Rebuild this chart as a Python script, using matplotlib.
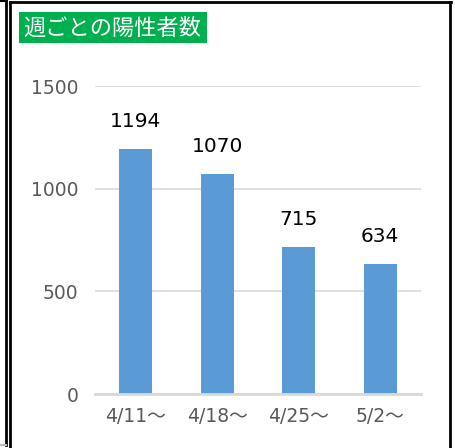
import matplotlib.pyplot as plt
from matplotlib.patches import Rectangle
from matplotlib.lines import Line2D

plt.rcParams['font.family'] = ['DejaVu Sans', 'Noto Sans CJK JP']

weeks = ["4/11～", "4/18～", "4/25～", "5/2～"]
cases = [1194, 1070, 715, 634]
title = "週ごとの陽性者数"

W, H = 456, 448
fig = plt.figure(figsize=(W / 100, H / 100), dpi=100)

# outer frames (pixel coords -> figure fraction)
def px(x, y):
    return x / W, 1 - y / H

def hline(x0, x1, y, color="black", lw=2.0):
    (a, b), (c, d) = px(x0, y), px(x1, y)
    fig.add_artist(Line2D([a, c], [b, d], color=color, lw=lw, transform=fig.transFigure))

def vline(x, y0, y1, color="black", lw=2.0):
    (a, b), (c, d) = px(x, y0), px(x, y1)
    fig.add_artist(Line2D([a, c], [b, d], color=color, lw=lw, transform=fig.transFigure))

vline(6, 0, 445)
hline(0, 6, 445, color="#bbbbbb", lw=1.5)
hline(0, 6, 1.5, lw=1.5)
vline(10.5, 2, 448)
hline(10, 451, 2.5)
vline(450.5, 2, 448)

# title box
x0, y0 = px(19, 43)
fig.add_artist(Rectangle((x0, y0), (207 - 19) / W, 31 / H, facecolor="#00B050",
                         edgecolor="none", transform=fig.transFigure))
tx, ty = px(23, 28)
fig.text(tx, ty, title, color="white", fontsize=16, va="center", ha="left",
         family=["Noto Sans CJK JP"])

ax = fig.add_axes([95 / W, 1 - 394 / H, (421 - 95) / W, (394 - 86) / H])
x = range(len(weeks))
bars = ax.bar(x, cases, width=0.4, color="#5B9BD5", zorder=3)
for xi, v in zip(x, cases):
    ax.annotate(str(v), (xi, v), xytext=(0, 13), textcoords="offset points",
                ha="center", va="bottom", fontsize=14.5, color="black")

ax.set_xlim(-0.5, 3.5)
ax.set_ylim(0, 1500)
ax.set_yticks([0, 500, 1000, 1500])
ax.set_xticks(list(x))
ax.set_xticklabels(weeks)
ax.grid(axis="y", color="#D9D9D9", lw=1.2, zorder=0)
ax.tick_params(axis="both", length=0, labelsize=13.5, colors="#595959")
ax.tick_params(axis="y", pad=12)
ax.tick_params(axis="x", pad=9)
for s in ["top", "right", "left"]:
    ax.spines[s].set_visible(False)
ax.spines["bottom"].set_color("#D9D9D9")
ax.spines["bottom"].set_linewidth(2)
ax.spines["bottom"].set_zorder(4)

fig.savefig("out.png", dpi=100)
